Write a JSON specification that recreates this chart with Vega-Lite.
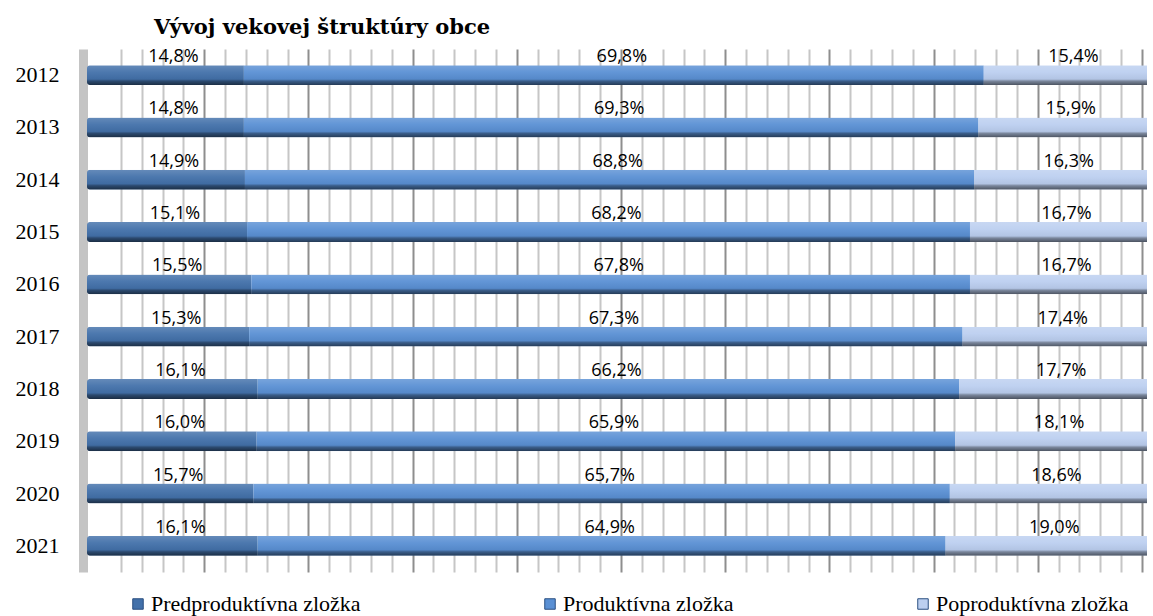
{
  "$schema": "https://vega.github.io/schema/vega-lite/v6.json",
  "width": 1060,
  "height": 523,
  "autosize": {"type": "none"},
  "padding": {"left": 87, "top": 49, "right": 6, "bottom": 44},
  "background": "white",
  "config": {
    "view": {"stroke": null},
    "locale": {"number": {"decimal": ",", "thousands": " ", "grouping": [3], "currency": ["", " €"]}}
  },
  "title": {
    "text": "Vývoj vekovej štruktúry obce",
    "anchor": "start",
    "frame": "group",
    "dx": 67,
    "offset": 10,
    "font": "DejaVu Serif",
    "fontSize": 21,
    "fontWeight": "bold",
    "color": "#000000"
  },
  "data": {
    "values": [
      {"rok": "2012", "zlozka": "Predproduktívna zložka", "k": 1, "podiel": 0.148},
      {"rok": "2012", "zlozka": "Produktívna zložka", "k": 2, "podiel": 0.698},
      {"rok": "2012", "zlozka": "Poproduktívna zložka", "k": 3, "podiel": 0.154},
      {"rok": "2013", "zlozka": "Predproduktívna zložka", "k": 1, "podiel": 0.148},
      {"rok": "2013", "zlozka": "Produktívna zložka", "k": 2, "podiel": 0.693},
      {"rok": "2013", "zlozka": "Poproduktívna zložka", "k": 3, "podiel": 0.159},
      {"rok": "2014", "zlozka": "Predproduktívna zložka", "k": 1, "podiel": 0.149},
      {"rok": "2014", "zlozka": "Produktívna zložka", "k": 2, "podiel": 0.688},
      {"rok": "2014", "zlozka": "Poproduktívna zložka", "k": 3, "podiel": 0.163},
      {"rok": "2015", "zlozka": "Predproduktívna zložka", "k": 1, "podiel": 0.151},
      {"rok": "2015", "zlozka": "Produktívna zložka", "k": 2, "podiel": 0.682},
      {"rok": "2015", "zlozka": "Poproduktívna zložka", "k": 3, "podiel": 0.167},
      {"rok": "2016", "zlozka": "Predproduktívna zložka", "k": 1, "podiel": 0.155},
      {"rok": "2016", "zlozka": "Produktívna zložka", "k": 2, "podiel": 0.678},
      {"rok": "2016", "zlozka": "Poproduktívna zložka", "k": 3, "podiel": 0.167},
      {"rok": "2017", "zlozka": "Predproduktívna zložka", "k": 1, "podiel": 0.153},
      {"rok": "2017", "zlozka": "Produktívna zložka", "k": 2, "podiel": 0.673},
      {"rok": "2017", "zlozka": "Poproduktívna zložka", "k": 3, "podiel": 0.174},
      {"rok": "2018", "zlozka": "Predproduktívna zložka", "k": 1, "podiel": 0.161},
      {"rok": "2018", "zlozka": "Produktívna zložka", "k": 2, "podiel": 0.662},
      {"rok": "2018", "zlozka": "Poproduktívna zložka", "k": 3, "podiel": 0.177},
      {"rok": "2019", "zlozka": "Predproduktívna zložka", "k": 1, "podiel": 0.160},
      {"rok": "2019", "zlozka": "Produktívna zložka", "k": 2, "podiel": 0.659},
      {"rok": "2019", "zlozka": "Poproduktívna zložka", "k": 3, "podiel": 0.181},
      {"rok": "2020", "zlozka": "Predproduktívna zložka", "k": 1, "podiel": 0.157},
      {"rok": "2020", "zlozka": "Produktívna zložka", "k": 2, "podiel": 0.657},
      {"rok": "2020", "zlozka": "Poproduktívna zložka", "k": 3, "podiel": 0.186},
      {"rok": "2021", "zlozka": "Predproduktívna zložka", "k": 1, "podiel": 0.161},
      {"rok": "2021", "zlozka": "Produktívna zložka", "k": 2, "podiel": 0.649},
      {"rok": "2021", "zlozka": "Poproduktívna zložka", "k": 3, "podiel": 0.190}
    ]
  },
  "encoding": {
    "y": {
      "field": "rok",
      "type": "nominal",
      "title": null,
      "scale": {"paddingInner": 0.62, "paddingOuter": 0.31},
      "axis": {
        "ticks": false,
        "labelFont": "Liberation Serif",
        "labelFontSize": 22,
        "labelColor": "#000000",
        "labelPadding": 24,
        "offset": 4,
        "domainColor": "#c4c4c4",
        "domainWidth": 9,
        "grid": false
      }
    },
    "order": {"field": "k", "type": "quantitative"}
  },
  "layer": [
    {
      "mark": {"type": "rule", "opacity": 0},
      "encoding": {
        "x": {
          "datum": 0.5,
          "type": "quantitative",
          "scale": {"domain": [-0.0125, 1.0048], "nice": false, "zero": false},
          "axis": {
            "values": [0.02, 0.04, 0.06, 0.08, 0.12, 0.14, 0.16, 0.18, 0.22, 0.24, 0.26, 0.28, 0.32, 0.34, 0.36, 0.38, 0.42, 0.44, 0.46, 0.48, 0.52, 0.54, 0.56, 0.58, 0.62, 0.64, 0.66, 0.68, 0.72, 0.74, 0.76, 0.78, 0.82, 0.84, 0.86, 0.88, 0.92, 0.94, 0.96, 0.98],
            "grid": true,
            "gridColor": "#c6c6c6",
            "gridWidth": 2,
            "labels": false,
            "ticks": false,
            "domain": false,
            "title": null
          }
        }
      }
    },
    {
      "mark": {"type": "rule", "opacity": 0},
      "encoding": {
        "x": {
          "datum": 0.5,
          "type": "quantitative",
          "scale": {"domain": [-0.0125, 1.0048], "nice": false, "zero": false},
          "axis": {
            "values": [0.1, 0.2, 0.3, 0.4, 0.5, 0.6, 0.7, 0.8, 0.9, 1.0],
            "grid": true,
            "gridColor": "#8e8e8e",
            "gridWidth": 2,
            "labels": false,
            "ticks": false,
            "domain": false,
            "title": null
          }
        }
      }
    },
    {
      "mark": {"type": "bar", "cornerRadiusTopLeft": 3, "cornerRadiusBottomLeft": 3},
      "encoding": {
        "x": {"field": "podiel", "type": "quantitative", "stack": "normalize", "scale": {"domain": [0, 1], "nice": false}, "axis": null},
        "color": {
          "field": "zlozka",
          "type": "nominal",
          "scale": {
            "domain": ["Predproduktívna zložka", "Produktívna zložka", "Poproduktívna zložka"],
            "range": ["#4371aa", "#5a90d4", "#bccff0"]
          },
          "legend": {
            "title": null,
            "orient": "none",
            "direction": "horizontal",
            "legendX": 40,
            "legendY": 544,
            "symbolType": "square",
            "symbolSize": 110,
            "symbolStrokeColor": "#2a4f80",
            "symbolStrokeWidth": 1,
            "labelFont": "Liberation Serif",
            "labelFontSize": 22,
            "labelColor": "#000000",
            "labelOffset": 2,
            "columnPadding": 178,
            "labelLimit": 400
          }
        }
      }
    },
    {
      "mark": {
        "type": "bar",
        "cornerRadiusTopLeft": 3,
        "cornerRadiusBottomLeft": 3,
        "color": {
          "gradient": "linear",
          "x1": 0, "y1": 0, "x2": 0, "y2": 1,
          "stops": [
            {"offset": 0, "color": "rgba(255,255,255,0.18)"},
            {"offset": 0.35, "color": "rgba(255,255,255,0.05)"},
            {"offset": 0.7, "color": "rgba(0,0,0,0.05)"},
            {"offset": 0.8, "color": "rgba(0,0,0,0.35)"},
            {"offset": 1, "color": "rgba(0,0,0,0.6)"}
          ]
        }
      },
      "encoding": {
        "x": {"field": "podiel", "type": "quantitative", "stack": "normalize", "scale": {"domain": [0, 1], "nice": false}, "axis": null}
      }
    },
    {
      "mark": {"type": "text", "dy": -18, "dx": 8, "font": "Open Sans", "fontSize": 18, "color": "#000000"},
      "encoding": {
        "x": {"field": "podiel", "type": "quantitative", "stack": "normalize", "bandPosition": 0.5, "scale": {"domain": [0, 1], "nice": false}, "axis": null},
        "text": {"field": "podiel", "type": "quantitative", "format": ".1%"}
      }
    }
  ],
  "resolve": {"scale": {"x": "independent"}, "axis": {"x": "independent"}}
}
